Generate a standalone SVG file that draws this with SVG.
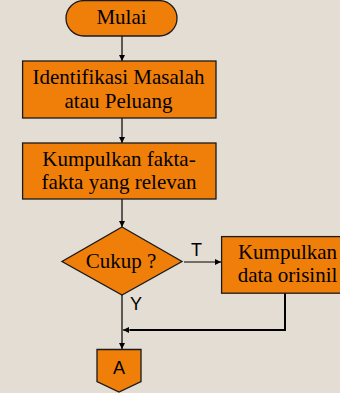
<svg xmlns="http://www.w3.org/2000/svg" width="340" height="393" viewBox="0 0 340 393">
<style>
.shape{fill:#F07F09;stroke:#1a1a1a;stroke-width:1.3}
.lbl{font-family:"Liberation Serif","Times New Roman",serif;font-size:21px;fill:#000;text-anchor:middle}
.sans{font-family:"Liberation Sans",Arial,sans-serif;font-size:18px;fill:#000}
.line{fill:none;stroke:#000;stroke-width:1.2}
.thick{fill:none;stroke:#000;stroke-width:2}
</style>
<defs>
<marker id="ah" viewBox="0 0 10 10" refX="10" refY="5" markerWidth="6" markerHeight="6" orient="auto" markerUnits="userSpaceOnUse">
<path d="M0,0 L10,5 L0,10 z" fill="#000"/>
</marker>
</defs>
<rect width="340" height="393" fill="#E3DDD3"/>
<g id="connectors">
<line class="line" x1="122" y1="36" x2="122" y2="61" marker-end="url(#ah)"/>
<line class="line" x1="122" y1="118" x2="122" y2="143" marker-end="url(#ah)"/>
<line class="line" x1="122" y1="199" x2="122" y2="227" marker-end="url(#ah)"/>
<line class="line" x1="184" y1="262" x2="221" y2="262" marker-end="url(#ah)"/>
<line class="line" x1="122" y1="295" x2="122" y2="349" marker-end="url(#ah)"/>
<polyline class="thick" points="285,293 285,330 130,330"/>
<line class="line" x1="131" y1="330" x2="123" y2="330" marker-end="url(#ah)"/>
<text class="sans" x="191" y="256">T</text>
<text class="sans" x="130" y="310">Y</text>
</g>
<g id="mulai">
<rect class="shape" x="66" y="0.6" width="111" height="35.4" rx="17.7"/>
<text class="lbl" x="121.5" y="24">Mulai</text>
</g>
<g id="identifikasi">
<rect class="shape" x="22.6" y="61" width="193.4" height="57"/>
<text class="lbl" x="118.5" y="84">Identifikasi Masalah</text>
<text class="lbl" x="118.5" y="108">atau Peluang</text>
</g>
<g id="kumpulkan-fakta">
<rect class="shape" x="22.6" y="143" width="193.4" height="56"/>
<text class="lbl" x="119" y="166">Kumpulkan fakta-</text>
<text class="lbl" x="119" y="188.5">fakta yang relevan</text>
</g>
<g id="cukup">
<polygon class="shape" points="122,227 182,261.5 122,295 62,261.5"/>
<text class="lbl" x="121" y="268">Cukup ?</text>
</g>
<g id="kumpulkan-data">
<rect class="shape" x="221.6" y="236.6" width="125" height="56.6"/>
<text class="lbl" x="287.5" y="259">Kumpulkan</text>
<text class="lbl" x="287.5" y="281.5">data orisinil</text>
</g>
<g id="connector-a">
<polygon class="shape" points="97,349.5 141,349.5 141,381.5 119,392 97,381.5"/>
<text class="sans" x="119" y="373.5" text-anchor="middle" font-size="19">A</text>
</g>
</svg>
